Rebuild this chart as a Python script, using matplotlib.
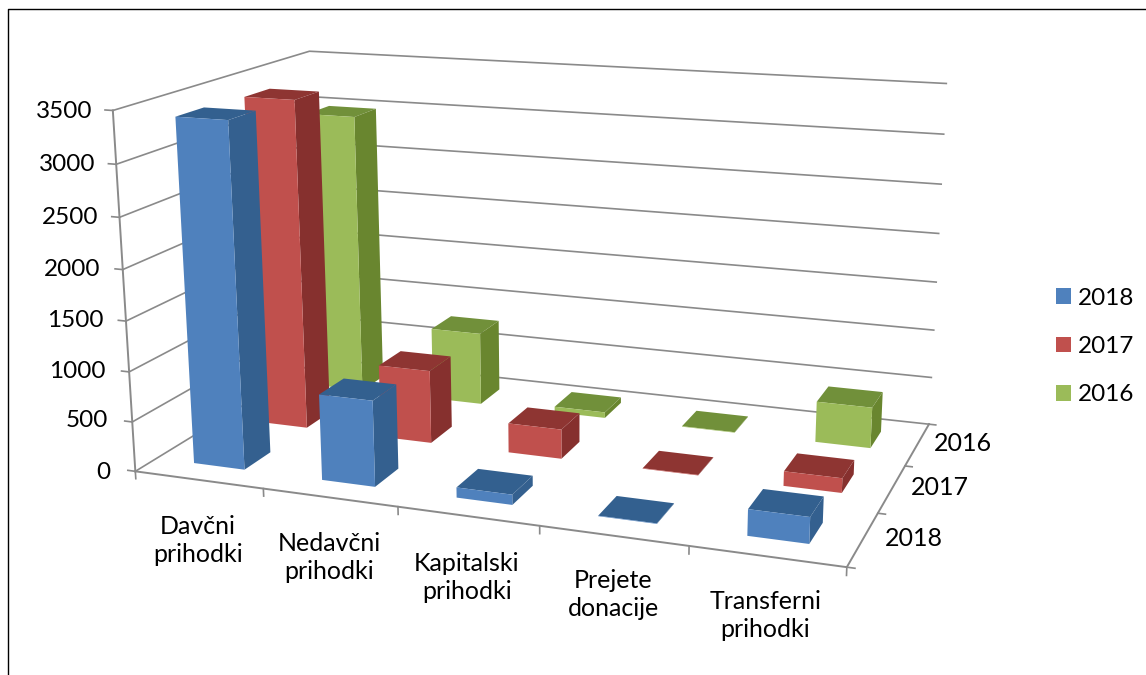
import numpy as np
import matplotlib
matplotlib.use('Agg')
import matplotlib.pyplot as plt
from matplotlib.lines import Line2D
from matplotlib.patches import Patch

plt.rcParams['font.family'] = ['Lato', 'DejaVu Sans']

# Data
categories = ['Davčni\nprihodki', 'Nedavčni\nprihodki', 'Kapitalski\nprihodki',
              'Prejete\ndonacije', 'Transferni\nprihodki']
years = ['2018', '2017', '2016']
values_2018 = [3400, 850, 100, 5, 250]
values_2017 = [3375, 750, 300, 5, 145]
values_2016 = [2985, 770, 60, 5, 420]
value_ticks = [0, 500, 1000, 1500, 2000, 2500, 3000, 3500]

series = [values_2018, values_2017, values_2016]
front_colors = ['#4F81BD', '#C0504D', '#9BBB59']
side_colors = ['#34608F', '#86302E', '#69862F']
top_colors = ['#33608F', '#8E3532', '#71903A']
label_drop = [-625, -600, -600, -555, -545]
label_x = [0.47, 0.48, 0.485, 0.5, 0.5]
GREY = '#8A8A8A'
W, H = 1146, 675
GAP = 0.3

# Excel's perspective box: where the corners of the chart land on the image
box_world = [(0, 0, 0), (0, 0, 3500), (0, 3, 0), (0, 3, 3500), (5, 3, 0), (5, 3, 3500), (5, 0, 0)]
box_pixel = [(134, 472), (115, 109), (322, 358), (307, 52), (929, 423), (947, 84), (846, 568)]

rows, rhs = [], []
for (x, y, z), (u, v) in zip(box_world, box_pixel):
    rows.append([x, y, z, 1, 0, 0, 0, 0, -u * x, -u * y, -u * z])
    rows.append([0, 0, 0, 0, x, y, z, 1, -v * x, -v * y, -v * z])
    rhs += [u, v]
p = np.linalg.lstsq(np.array(rows, dtype=float), np.array(rhs, dtype=float), rcond=None)[0]
P = np.append(p, 1).reshape(3, 4)

fig = plt.figure(figsize=(W / 100, H / 100), dpi=100)
ax = fig.add_axes([0, 0, 1, 1], projection='3d', computed_zorder=False)
ax.apply_aspect = lambda position=None: None
ax.set_proj_type('ortho')  # stops Line3D clipping on the fake depth row
ax.set_xticks([])
ax.set_yticks([])
ax.set_zticks([])
ax.set_axis_off()


def box_proj():
    # world -> image pixels -> the 2d coordinates the 3d axes draws in
    to_display = np.array([[1, 0, 0], [0, -1, H], [0, 0, 1]], dtype=float)
    to_view = ax.transData.get_affine().inverted().get_matrix()
    m = to_view @ to_display @ P
    return np.vstack([m[0], m[1], [0, 1, 0, 0], m[2]])


ax.get_proj = box_proj


def label(x, y, z, s, dy=0, **kw):
    # flat figure text placed at the projected spot of a 3d point
    u, v, w = P @ np.array([x, y, z, 1.0])
    fig.text(u / w / W, 1 - (v / w + dy) / H, s, va='center', color='black', **kw)


# Walls and floor lines
for v in value_ticks:
    ax.plot([0, 0, 5], [0, 3, 3], [v, v, v], color=GREY, lw=1.2, zorder=1)
    ax.plot([-0.06, 0], [0, 0], [v, v], color=GREY, lw=1.2, zorder=1)
    label(-0.2 + 0.045 * v / 3500, 0, v, str(v), dy=5 if v == 0 else 2, ha='right', fontsize=17.5)
ax.plot([0, 0], [0, 0], [0, 3500], color=GREY, lw=1.4, zorder=1)
ax.plot([0, 5, 5], [0, 0, 3], [0, 0, 0], color=GREY, lw=1.4, zorder=1)

for i in range(6):
    ax.plot([i, i], [0, 0], [0, -75], color=GREY, lw=1.2, zorder=1)
for i, name in enumerate(categories):
    label(i + label_x[i], 0, label_drop[i], name, ha='center', fontsize=18, linespacing=1.28)
for j, year in enumerate(years):
    ax.plot([5, 5.05], [j, j], [0, 0], color=GREY, lw=1.2, zorder=1)
    label(5.32, j + 0.5, 65, year, ha='center', fontsize=18)
ax.plot([5, 5.05], [3, 3], [0, 0], color=GREY, lw=1.2, zorder=1)

# Back row first, then left to right, so nearer bars cover the ones behind
order = 10
for j in [2, 1, 0]:
    for i, val in enumerate(series[j]):
        face_colors = ['none', top_colors[j], front_colors[j], 'none', 'none', side_colors[j]]
        ax.bar3d(i + GAP, j + GAP, 0, 1 - 2 * GAP, 1 - 2 * GAP, val, color=face_colors,
                 shade=False, zorder=order, edgecolor='none')
        order += 1

handles = [Patch(facecolor=c, edgecolor='none') for c in front_colors]
fig.legend(handles, years, loc='center left', bbox_to_anchor=(1051 / W, 1 - 346.5 / H),
           frameon=False, fontsize=17.5, handlelength=0.62, handleheight=0.62,
           handletextpad=0.3, labelspacing=1.12, borderaxespad=0, borderpad=0.2)

# Frame of the pasted chart: only left and top are visible
fig.add_artist(Line2D([7.5 / W, 7.5 / W, 1], [0, 1 - 9 / H, 1 - 9 / H], color='black', lw=1,
                      transform=fig.transFigure))

fig.savefig('out.png', dpi=100)
